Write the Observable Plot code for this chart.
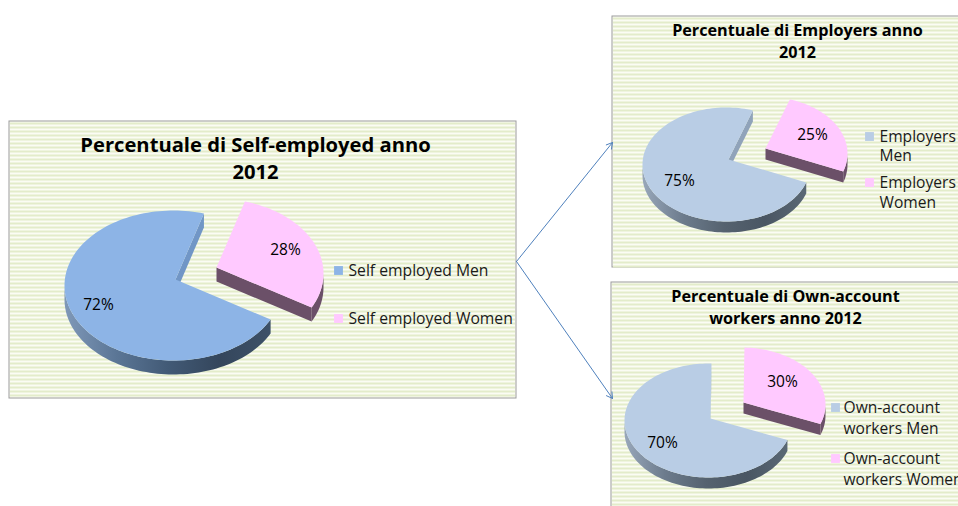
<!DOCTYPE html>
<html>
<head>
<meta charset="utf-8">
<script src="https://cdn.jsdelivr.net/npm/d3@7"></script>
<script src="https://cdn.jsdelivr.net/npm/@observablehq/plot@0.6"></script>
<style>
  html, body { margin: 0; padding: 0; background: #fff; overflow: hidden; }
  svg { display: block; }
</style>
</head>
<body>
<div id="chart"></div>
<script>
// Shares of men and women per employment group, 2012
const selfEmployedShares = [72, 28];
const employersShares = [75, 25];
const ownAccountShares = [70, 30];

const selfEmployedLegend = [["Self employed Men"], ["Self employed Women"]];
const employersLegend = [["Employers", "Men"], ["Employers", "Women"]];
const ownAccountLegend = [["Own-account", "workers Men"], ["Own-account", "workers Women"]];

const selfEmployedTitle = ["Percentuale di Self-employed anno", "2012"];
const employersTitle = ["Percentuale di Employers anno", "2012"];
const ownAccountTitle = ["Percentuale di Own-account", "workers anno 2012"];

const FONT = "'Open Sans', sans-serif";
const WIDTH = 958, HEIGHT = 506;

// Layout of each panel: frame, pie ellipse, explosion of the women's slice, text anchors
const panels = [
  {
    id: "self", shares: selfEmployedShares, legend: selfEmployedLegend, title: selfEmployedTitle,
    frame: [9, 121, 516, 398],
    vertex: [175, 279], center: [173, 285], rx: 109, ry: 75, depth: 14,
    firstAngle: 117, explode: [41, -12],
    menColor: "#8db4e6", wallStops: ["#7f98b8", "#5b7696", "#425a76", "#34465c", "#3d5168"], notch: "#7196c6",
    titleX: 255, titleY: [145, 172], titleSize: 20.2,
    pct: [[98, 305], [285, 250]], pctSize: 15.5,
    swatchX: 338, textX: 348, legendY: [[270], [318]], legendSize: 15.7
  },
  {
    id: "emp", shares: employersShares, legend: employersLegend, title: employersTitle,
    frame: [612, 16, 962, 267],
    vertex: [728, 159], center: [726, 164], rx: 84, ry: 57, depth: 11,
    firstAngle: 108.3, explode: [37, -11],
    menColor: "#b9cde5", wallStops: ["#98a7ba", "#6c7b8c", "#55626f", "#4a5663", "#5a6875"], notch: "#90a3ba",
    titleX: 797, titleY: [30, 52], titleSize: 16.2,
    pct: [[679, 181], [812, 135]], pctSize: 15.5,
    swatchX: 869, textX: 879, legendY: [[136, 155], [182, 202]], legendSize: 15.6
  },
  {
    id: "own", shares: ownAccountShares, legend: ownAccountLegend, title: ownAccountTitle,
    frame: [611, 282, 962, 512],
    vertex: [710, 418], center: [708, 420], rx: 84, ry: 57, depth: 11,
    firstAngle: 110, explode: [33, -16],
    menColor: "#b9cde5", wallStops: ["#98a7ba", "#6c7b8c", "#55626f", "#4a5663", "#5a6875"], notch: "#90a3ba",
    titleX: 785, titleY: [296, 318], titleSize: 16.2,
    pct: [[662, 443], [782, 382]], pctSize: 15.5,
    swatchX: 835, textX: 843, legendY: [[407, 428], [458, 479]], legendSize: 15.6
  }
];

const womenColor = "#ffc9ff";
const womenWall = "#6b5068";
const arrowsOut = [
  {from: [516, 261], to: [612, 142]},
  {from: [516, 261], to: [612, 398]}
];

// A point on the tilted rim; the angle runs clockwise from twelve o'clock
function rim(p, angle, dx = 0, dy = 0) {
  const t = angle * Math.PI / 180;
  return [p.center[0] + dx + p.rx * Math.sin(t), p.center[1] + dy - p.ry * Math.cos(t)];
}
function arc(p, a0, a1, dx = 0, dy = 0) {
  const n = Math.max(2, Math.ceil(Math.abs(a1 - a0) / 2));
  return d3.range(n + 1).map(i => rim(p, a0 + (a1 - a0) * i / n, dx, dy));
}
function outline(points, fill) {
  return Plot.line(points.concat([points[0]]), {x: d => d[0], y: d => d[1], fill, stroke: "none"});
}

// Sweeps the slice faces out of the two shares
function pieMarks(p) {
  const total = d3.sum(p.shares);
  const menSpan = 360 * p.shares[0] / total;
  const womenSpan = 360 * p.shares[1] / total;
  const menStart = p.firstAngle, menEnd = menStart + menSpan;
  const womenStart = menEnd - 360, womenEnd = womenStart + womenSpan;
  const [ex, ey] = p.explode;
  const [vx, vy] = p.vertex;
  const d = p.depth;

  const menRim = arc(p, menStart, menEnd);
  const menEndPoint = rim(p, menEnd);
  const womenFrontFrom = Math.max(90, womenStart);
  const womenV = [vx + ex, vy + ey];
  const womenLast = rim(p, womenEnd, ex, ey);

  return [
    // men: outer wall, inner notch wall, top
    outline(arc(p, menStart, 270).concat(arc(p, 270, menStart, 0, d)), `url(#wall-${p.id})`),
    outline([[vx, vy], menEndPoint, [menEndPoint[0], menEndPoint[1] + d], [vx, vy + d]], p.notch),
    outline([[vx, vy], ...menRim], p.menColor),
    // women: cut face, outer wall, top
    outline([womenV, womenLast, [womenLast[0], womenLast[1] + d], [womenV[0], womenV[1] + d]], womenWall),
    outline(arc(p, womenFrontFrom, womenEnd, ex, ey).concat(arc(p, womenEnd, womenFrontFrom, ex, ey + d)), womenWall),
    outline([womenV, ...arc(p, womenStart, womenEnd, ex, ey)], womenColor)
  ];
}

function panelMarks(p) {
  const [x0, y0, x1, y1] = p.frame;
  const stripes = d3.range(y0 + 2, y1, 4);
  const lines = p.title.map((text, i) => ({text, y: p.titleY[i]}));
  const pctLabels = p.shares.map((s, i) => ({text: `${s}%`, x: p.pct[i][0], y: p.pct[i][1]}));
  const swatches = p.legend.map((_, i) => ({y: p.legendY[i][0], fill: i ? womenColor : p.menColor}));
  const legendLines = p.legend.flatMap((rows, i) => rows.map((text, j) => ({text, y: p.legendY[i][j]})));

  return [
    Plot.rect([p.frame], {x1: d => d[0], y1: d => d[1], x2: d => d[2], y2: d => d[3], fill: "#fbfcf4", stroke: "#9c9c9c", strokeWidth: 1}),
    Plot.ruleY(stripes, {x1: () => x0 + 1, x2: () => x1 - 1, stroke: "#e3ecca", strokeWidth: 2}),
    ...pieMarks(p),
    Plot.text(lines, {x: () => p.titleX, y: "y", text: "text", fontSize: p.titleSize, fontWeight: 700, fontFamily: FONT, fill: "#000"}),
    Plot.text(pctLabels, {x: "x", y: "y", text: "text", fontSize: p.pctSize, fontFamily: FONT, fill: "#000"}),
    Plot.dot(swatches, {x: () => p.swatchX, y: "y", symbol: "square", r: 5, fill: d => d.fill, stroke: "none"}),
    Plot.text(legendLines, {x: () => p.textX, y: "y", text: "text", textAnchor: "start", fontSize: p.legendSize, fontFamily: FONT, fill: "#1a1a1a"})
  ];
}

// Gradient definitions for the shaded outer walls
function wallGradients() {
  const defs = d3.create("svg:defs");
  for (const p of panels) {
    const g = defs.append("linearGradient").attr("id", `wall-${p.id}`);
    p.wallStops.forEach((c, i, all) => g.append("stop").attr("offset", i / (all.length - 1)).attr("stop-color", c));
  }
  return defs.node();
}

const chart = Plot.plot({
  width: WIDTH,
  height: HEIGHT,
  margin: 0,
  style: {background: "#fff"},
  x: {domain: [0, WIDTH], range: [0, WIDTH], axis: null},
  y: {domain: [0, HEIGHT], range: [0, HEIGHT], axis: null},
  marks: [
    wallGradients,
    ...panels.flatMap(panelMarks),
    Plot.arrow(arrowsOut, {
      x1: d => d.from[0], y1: d => d.from[1], x2: d => d.to[0], y2: d => d.to[1],
      stroke: "#4f81bd", strokeWidth: 1, headLength: 10, bend: 0
    })
  ]
});
document.getElementById("chart").append(chart);
</script>
</body>
</html>
